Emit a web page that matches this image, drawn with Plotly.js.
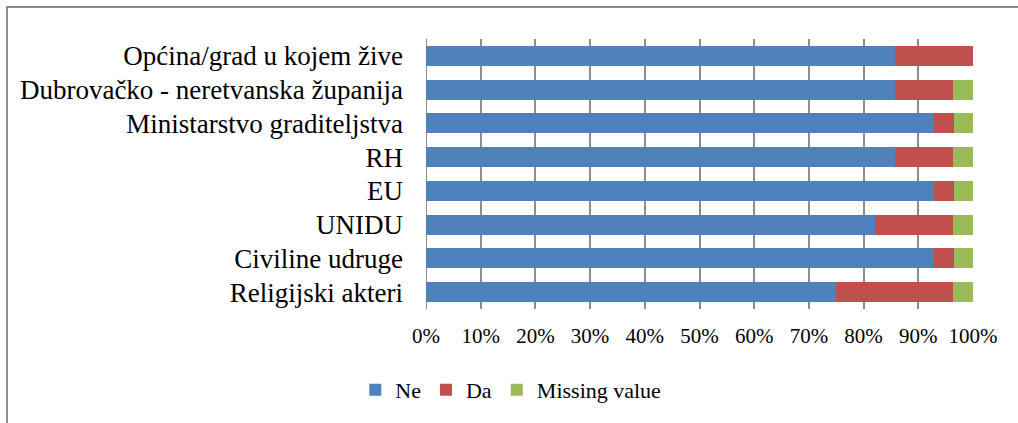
<!DOCTYPE html>
<html>
<head>
<meta charset="utf-8">
<script src="https://cdn.plot.ly/plotly-3.0.1.min.js"></script>
<style>
html,body{margin:0;padding:0;background:#fff;}
#chart{width:1018px;height:423px;}
#frame{position:absolute;left:6px;top:6px;width:1030px;height:440px;border-left:2px solid #8c8c8c;border-top:2px solid #8c8c8c;pointer-events:none;}
</style>
</head>
<body>
<div id="chart"></div>
<div id="frame"></div>
<script>
const categories = ["Općina/grad u kojem žive","Dubrovačko - neretvanska županija","Ministarstvo graditeljstva","RH","EU","UNIDU","Civiline udruge","Religijski akteri"];
const ne = [85.7, 85.7, 92.9, 85.7, 92.9, 82.1, 92.9, 75.0];
const da = [14.3, 10.7, 3.6, 10.7, 3.6, 14.3, 3.6, 21.4];
const missing = [0, 3.6, 3.5, 3.6, 3.5, 3.6, 3.5, 3.6];
const seriesNames = ["Ne","Da","Missing value"];
const colors = ["#4F81BD","#C0504D","#9BBB59"];
const tickVals = [0,10,20,30,40,50,60,70,80,90,100];
const tickText = ["0%","10%","20%","30%","40%","50%","60%","70%","80%","90%","100%"];

const series = [ne, da, missing];
const traces = series.map((vals, i) => ({
  type: 'bar', orientation: 'h', name: seriesNames[i],
  x: vals, y: categories,
  marker: {color: colors[i], line: {width: 0}},
  hoverinfo: 'none'
}));

const fam = '"Liberation Serif", "Times New Roman", serif';
Plotly.newPlot('chart', traces, {
  width: 1018, height: 423,
  barmode: 'stack', bargap: 0.41,
  margin: {l: 426, r: 45, t: 39, b: 114},
  paper_bgcolor: '#fff', plot_bgcolor: '#fff',
  font: {family: fam, size: 20, color: '#000'},
  showlegend: true,
  legend: {orientation: 'h', x: 0.155, xanchor: 'center', y: -0.3, yanchor: 'middle',
           font: {family: fam, size: 22, color: '#000'}, itemwidth: 30, tracegroupgap: 0, traceorder: 'normal'},
  xaxis: {range: [0, 100], tickvals: tickVals, ticktext: tickText, showgrid: true, gridcolor: '#8c8c8c', gridwidth: 2,
          zeroline: false, showline: false, ticks: '', ticklabelstandoff: 12, fixedrange: true,
          tickfont: {family: fam, size: 21, color: '#000'}},
  yaxis: {type: 'category', categoryorder: 'array', categoryarray: categories, autorange: 'reversed',
          showgrid: false, zeroline: false, showline: false, ticks: '', ticklabelstandoff: 22, fixedrange: true,
          tickfont: {family: fam, size: 27, color: '#000'}},
  shapes: [{type: 'line', xref: 'x', yref: 'paper', x0: 0, x1: 0, y0: 0, y1: 1, line: {color: '#8c8c8c', width: 2}, layer: 'below'}]
}, {staticPlot: true});
</script>
</body>
</html>
